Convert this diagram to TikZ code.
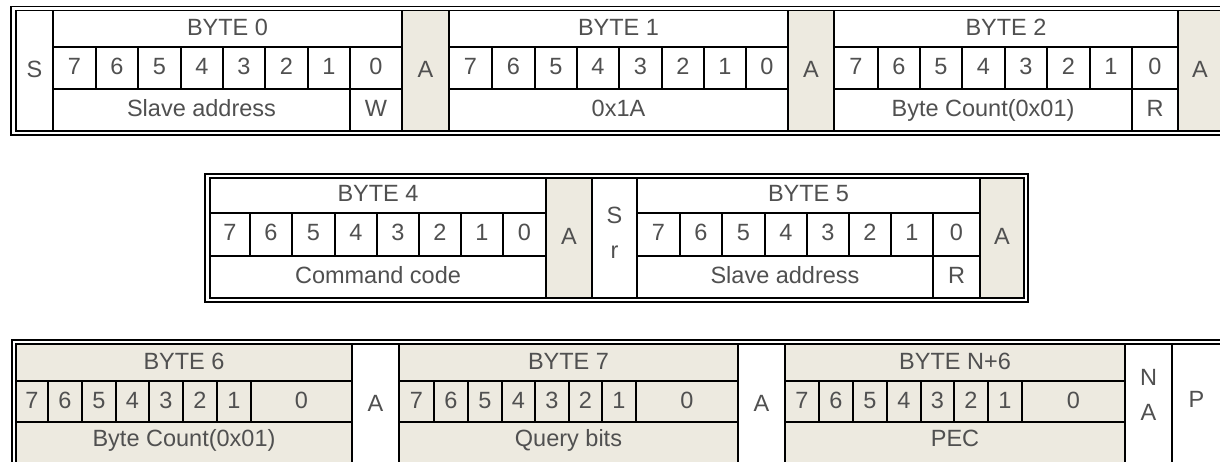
\documentclass[tikz,border=0pt]{standalone}
\usepackage{fontspec}
\setmainfont{Liberation Sans}
\definecolor{fieldbeige}{HTML}{EDEAE0}
\definecolor{labelgray}{HTML}{505050}

\tikzset{
  cellbox/.style={draw, line width=1.6pt, inner sep=0pt, outer sep=0pt, text=labelgray,
    font=\fontsize{23.5}{28}\selectfont, text height=17pt, text depth=4pt},
  shaded/.style={fill=fieldbeige},
  twoline/.style={align=center, font=\fontsize{23.5}{35}\selectfont, text height={}, text depth=10pt},
  frameline/.style={draw, line width=1.6pt},
}

% cell from (x1,y1) to (x2,y2), in pixels
\newcommand{\fieldcell}[7][]{%
  \node[cellbox, #1, minimum width={(#5-#3)*1pt}, minimum height={(#6-#4)*1pt}]
    (#2) at ({(#3+#5)/2},{(#4+#6)/2}) {#7};}

\begin{document}
\begin{tikzpicture}[x=1pt, y=-1pt]
    \useasboundingbox (0,0) rectangle (1220,462);
    \fill[white] (0,0) rectangle (1220,462);
    \clip (0,0) rectangle (1220,462);

    % First frame: S, BYTE 0, BYTE 1, BYTE 2
    \draw[frameline] (11,6.5) rectangle (1240,135);
    \fieldcell{oneS}{16}{10.5}{53}{131}{S}
    \fieldcell{oneHead0}{53}{10.5}{402}{47}{BYTE 0}
    \foreach \xa/\xb/\bit in {53/96/7,96/138/6,138/181/5,181/223/4,223/265/3,265/308/2,308/350/1,350/402/0}
        \fieldcell{oneBitA\bit}{\xa}{47}{\xb}{89}{\bit};
    \fieldcell{oneAddr}{53}{89}{350}{131}{Slave address}
    \fieldcell{oneW}{350}{89}{402}{131}{W}
    \fieldcell[shaded]{oneAckA}{402}{10.5}{449}{131}{A}

    \fieldcell{oneHead1}{449}{10.5}{788}{47}{BYTE 1}
    \foreach \xa/\xb/\bit in {449/492/7,492/535/6,535/577/5,577/619/4,619/662/3,662/704/2,704/746/1,746/788/0}
        \fieldcell{oneBitB\bit}{\xa}{47}{\xb}{89}{\bit};
    \fieldcell{oneCode}{449}{89}{788}{131}{0x1A}
    \fieldcell[shaded]{oneAckB}{788}{10.5}{834}{131}{A}

    \fieldcell{oneHead2}{834}{10.5}{1178}{47}{BYTE 2}
    \foreach \xa/\xb/\bit in {834/878/7,878/920/6,920/962/5,962/1005/4,1005/1047/3,1047/1090/2,1090/1132/1,1132/1178/0}
        \fieldcell{oneBitC\bit}{\xa}{47}{\xb}{89}{\bit};
    \fieldcell{oneCount}{834}{89}{1132}{131}{Byte Count(0x01)}
    \fieldcell{oneR}{1132}{89}{1178}{131}{R}
    \fieldcell[shaded]{oneAckC}{1178}{10.5}{1222}{131}{A}

    % Second frame: BYTE 4, Sr, BYTE 5
    \draw[frameline] (205,174) rectangle (1028,302);
    \fieldcell{twoHead4}{210}{178}{546}{213}{BYTE 4}
    \foreach \xa/\xb/\bit in {210/250/7,250/292/6,292/335/5,335/377/4,377/419/3,419/461/2,461/503/1,503/546/0}
        \fieldcell{twoBitA\bit}{\xa}{213}{\xb}{256}{\bit};
    \fieldcell{twoCmd}{210}{256}{546}{298}{Command code}
    \fieldcell[shaded]{twoAckA}{546}{178}{592}{298}{A}
    \fieldcell[twoline]{twoSr}{592}{178}{637}{298}{S\\r}

    \fieldcell{twoHead5}{637}{178}{980}{213}{BYTE 5}
    \foreach \xa/\xb/\bit in {637/680/7,680/722/6,722/765/5,765/807/4,807/849/3,849/891/2,891/933/1,933/980/0}
        \fieldcell{twoBitB\bit}{\xa}{213}{\xb}{256}{\bit};
    \fieldcell{twoAddr}{637}{256}{933}{298}{Slave address}
    \fieldcell{twoR}{933}{256}{980}{298}{R}
    \fieldcell[shaded]{twoAckB}{980}{178}{1024}{298}{A}

    % Third frame: BYTE 6, BYTE 7, BYTE N+6, NA, P
    \draw[frameline] (12,340) rectangle (1240,480);
    \fieldcell[shaded]{threeHead6}{16}{344}{352}{381}{BYTE 6}
    \foreach \xa/\xb/\bit in {16/48/7,48/82/6,82/116/5,116/149/4,149/183/3,183/217/2,217/251/1,251/352/0}
        \fieldcell[shaded]{threeBitA\bit}{\xa}{381}{\xb}{422}{\bit};
    \fieldcell[shaded, text depth=12pt]{threeCount}{16}{422}{352}{465}{Byte Count(0x01)}
    \fieldcell{threeAckA}{352}{344}{399}{465}{A}

    \fieldcell[shaded]{threeHead7}{399}{344}{738}{381}{BYTE 7}
    \foreach \xa/\xb/\bit in {399/434/7,434/468/6,468/502/5,502/535/4,535/569/3,569/602/2,602/636/1,636/738/0}
        \fieldcell[shaded]{threeBitB\bit}{\xa}{381}{\xb}{422}{\bit};
    \fieldcell[shaded, text depth=12pt]{threeQuery}{399}{422}{738}{465}{Query bits}
    \fieldcell{threeAckB}{738}{344}{785}{465}{A}

    \fieldcell[shaded]{threeHeadN}{785}{344}{1125}{381}{BYTE N+6}
    \foreach \xa/\xb/\bit in {785/819/7,819/853/6,853/887/5,887/921/4,921/954/3,954/988/2,988/1022/1,1022/1125/0}
        \fieldcell[shaded]{threeBitC\bit}{\xa}{381}{\xb}{422}{\bit};
    \fieldcell[shaded, text depth=12pt]{threePec}{785}{422}{1125}{465}{PEC}
    \fieldcell[twoline, text depth=20pt]{threeNack}{1125}{344}{1172}{465}{N\\A}
    \fieldcell[text depth=12pt]{threeStop}{1172}{344}{1221}{465}{P}
\end{tikzpicture}
\end{document}
